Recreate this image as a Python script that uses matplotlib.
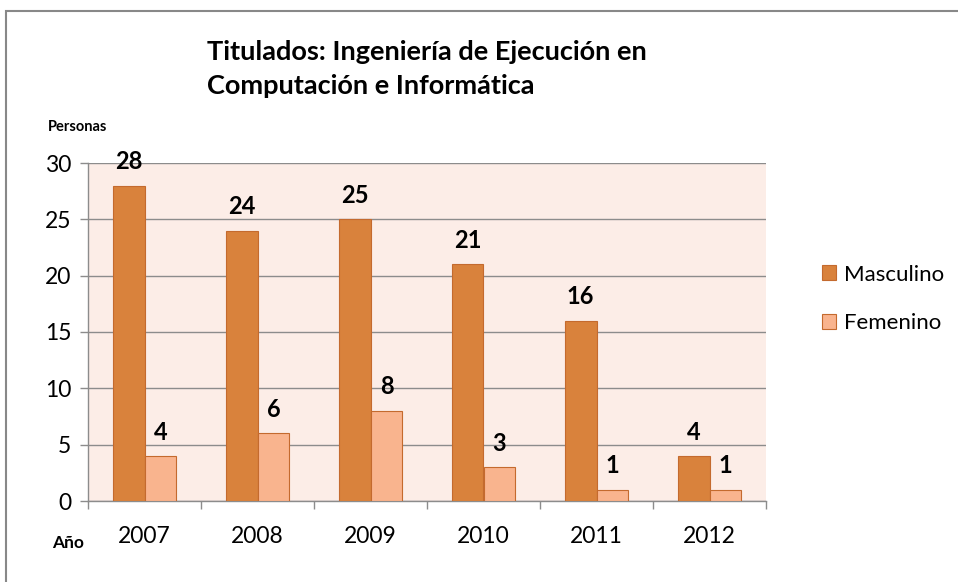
import numpy as np
import matplotlib.pyplot as plt
from matplotlib.patches import Rectangle

plt.rcParams['font.family'] = ['Lato', 'DejaVu Sans']

years = ["2007", "2008", "2009", "2010", "2011", "2012"]
masculino = [28, 24, 25, 21, 16, 4]
femenino = [4, 6, 8, 3, 1, 1]
y_ticks = [0, 5, 10, 15, 20, 25, 30]

c_masc = "#D9823C"
c_fem = "#F9B48E"
c_edge = "#C46A2E"

fig = plt.figure(figsize=(9.58, 5.82), dpi=100)
fig.patches.append(Rectangle((6 / 958, -0.1), 1.2, 1 - 11 / 582 + 0.1,
                             transform=fig.transFigure, fill=False,
                             edgecolor="#888888", linewidth=1.5))

ax = fig.add_axes([88 / 958, 1 - 501 / 582, (766 - 88) / 958, (501 - 163) / 582])
ax.set_facecolor("#FCEDE7")

x = np.arange(len(years))
w = 0.283
ax.bar(x - w / 2, masculino, w, color=c_masc, edgecolor=c_edge, linewidth=0.8,
       label="Masculino", zorder=3)
ax.bar(x + w / 2, femenino, w, color=c_fem, edgecolor=c_edge, linewidth=0.8,
       label="Femenino", zorder=3)

for i in range(len(years)):
    ax.text(x[i] - w / 2, masculino[i] + 1.1, str(masculino[i]), ha="center",
            va="bottom", fontsize=17, fontweight="bold")
    ax.text(x[i] + w / 2, femenino[i] + 1.1, str(femenino[i]), ha="center",
            va="bottom", fontsize=17, fontweight="bold")

ax.set_xlim(-0.5, len(years) - 0.5)
ax.set_ylim(0, 30)
ax.set_yticks(y_ticks)
ax.yaxis.grid(True, color="#8C8C8C", linewidth=1, zorder=0)
ax.set_axisbelow(True)
ax.tick_params(axis="y", labelsize=16.5, length=6, color="#8C8C8C", width=1, pad=6)

ax.set_xticks(x)
ax.set_xticklabels(years, fontsize=16.5)
ax.set_xticks(np.arange(-0.5, len(years)), minor=True)
ax.tick_params(axis="x", which="major", length=0, pad=18)
ax.tick_params(axis="x", which="minor", length=6, color="#8C8C8C", width=1)

for s in ["top", "right"]:
    ax.spines[s].set_visible(False)
for s in ["left", "bottom"]:
    ax.spines[s].set_color("#8C8C8C")
    ax.spines[s].set_linewidth(1)

fig.text(207 / 958, 1 - 69 / 582, "Titulados: Ingeniería de Ejecución en\nComputación e Informática",
         ha="left", va="center", fontsize=19.5, fontweight="bold", linespacing=1.5)
fig.text(48 / 958, 1 - 127 / 582, "Personas", ha="left", va="center", fontsize=10.5,
         fontweight="bold")
fig.text(52 / 958, 1 - 543 / 582, "Año", ha="left", va="center", fontsize=12.5,
         fontweight="bold")

fig.legend(loc="center left", bbox_to_anchor=(802 / 958, 1 - 299 / 582), frameon=False,
           fontsize=16, handlelength=0.65, handleheight=0.65, handletextpad=0.35,
           labelspacing=1.3)

fig.savefig("out.png", dpi=100)
